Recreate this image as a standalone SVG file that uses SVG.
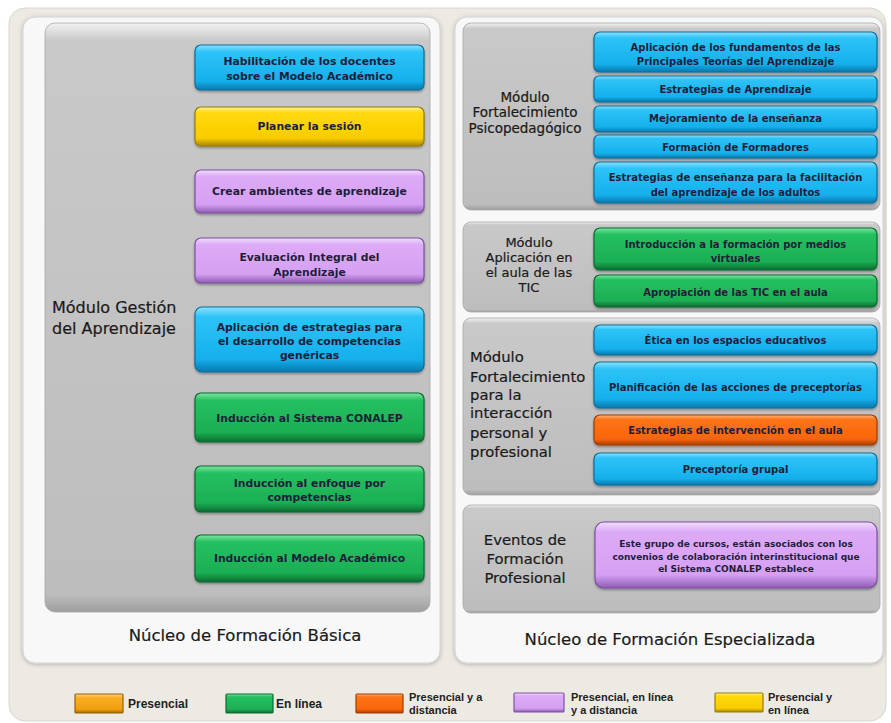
<svg xmlns="http://www.w3.org/2000/svg" width="891" height="723" viewBox="0 0 891 723">
<defs>
<linearGradient id="gBlue" x1="0" y1="0" x2="0" y2="1"><stop offset="0" stop-color="#8EE1FF"/><stop offset="0.15" stop-color="#2EC3F7"/><stop offset="0.8" stop-color="#14B0EC"/><stop offset="1" stop-color="#0A78AE"/></linearGradient>
<linearGradient id="gYellow" x1="0" y1="0" x2="0" y2="1"><stop offset="0" stop-color="#FFF19A"/><stop offset="0.15" stop-color="#FFD90A"/><stop offset="0.8" stop-color="#F9CC00"/><stop offset="1" stop-color="#A88600"/></linearGradient>
<linearGradient id="gPurple" x1="0" y1="0" x2="0" y2="1"><stop offset="0" stop-color="#F1DCFF"/><stop offset="0.15" stop-color="#DDAAF7"/><stop offset="0.8" stop-color="#D5A0F2"/><stop offset="1" stop-color="#8F5CB4"/></linearGradient>
<linearGradient id="gGreen" x1="0" y1="0" x2="0" y2="1"><stop offset="0" stop-color="#7EE6A4"/><stop offset="0.15" stop-color="#25C060"/><stop offset="0.8" stop-color="#1CAF54"/><stop offset="1" stop-color="#0C6D30"/></linearGradient>
<linearGradient id="gOrange" x1="0" y1="0" x2="0" y2="1"><stop offset="0" stop-color="#FFB27A"/><stop offset="0.15" stop-color="#FF7418"/><stop offset="0.8" stop-color="#F9650A"/><stop offset="1" stop-color="#A84000"/></linearGradient>
<linearGradient id="gAmber" x1="0" y1="0" x2="0" y2="1"><stop offset="0" stop-color="#FFD27A"/><stop offset="0.2" stop-color="#F9AE22"/><stop offset="0.8" stop-color="#F0A010"/><stop offset="1" stop-color="#A86A00"/></linearGradient>
<linearGradient id="gGray" x1="0" y1="0" x2="0" y2="1"><stop offset="0" stop-color="#F2F2F2"/><stop offset="0.03" stop-color="#C9C9C9"/><stop offset="0.97" stop-color="#BDBDBD"/><stop offset="1" stop-color="#9E9E9E"/></linearGradient>
<filter id="sh" x="-5%" y="-5%" width="110%" height="120%"><feDropShadow dx="0" dy="1.5" stdDeviation="1.2" flood-color="#000" flood-opacity="0.35"/></filter>
<filter id="psh" x="-5%" y="-5%" width="110%" height="110%"><feDropShadow dx="0" dy="1" stdDeviation="2" flood-color="#000" flood-opacity="0.25"/></filter>
</defs>
<style>
.frame{fill:#ECEAE2;stroke:#D8D6CE;stroke-width:1}
.panel{fill:#F8F8F8;stroke:#D2D2D2;stroke-width:1}
.gray{fill:url(#gGray);stroke:#A8A8A8;stroke-width:0.8}
.box{stroke-width:1.2}
.blue{fill:url(#gBlue);stroke:#0B6E9E}
.yellow{fill:url(#gYellow);stroke:#9A7C00}
.purple{fill:url(#gPurple);stroke:#7F4FA5}
.green{fill:url(#gGreen);stroke:#0B6A2E}
.orange{fill:url(#gOrange);stroke:#A03D00}
.amber{fill:url(#gAmber);stroke:#9A6000}
.bt{font-family:"DejaVu Sans",Verdana,sans-serif;font-weight:bold;font-size:10.8px;fill:#1E1E3A;text-anchor:middle}
.bs{font-size:10px}
.ml{font-family:"DejaVu Sans",Verdana,sans-serif;font-size:14.8px;fill:#1A1A1A;stroke:#1A1A1A;stroke-width:0.2}
.mc{text-anchor:middle}
.title{font-family:"DejaVu Sans",Verdana,sans-serif;font-size:16.5px;fill:#1A1A1A;stroke:#1A1A1A;stroke-width:0.2;text-anchor:middle}
.lg{font-family:"Liberation Sans",Arial,sans-serif;font-weight:bold;font-size:11px;fill:#222}
</style>

<rect class="frame" x="9" y="8" width="877" height="713" rx="16"/>

<g id="nucleo-basica">
<rect class="panel" x="23" y="17" width="417" height="646" rx="12" filter="url(#psh)"/>
<rect class="gray" x="45" y="23" width="385" height="589" rx="10"/>
<text class="title" x="245" y="641">Núcleo de Formación Básica</text>
</g>

<g id="nucleo-especializada">
<rect class="panel" x="455" y="17" width="428" height="646" rx="12" filter="url(#psh)"/>
<text class="title" x="670" y="645">Núcleo de Formación Especializada</text>
</g>

<g id="modulo-gestion">
<text class="ml" x="52" y="313" style="font-size:16px">Módulo Gestión</text>
<text class="ml" x="52" y="334" style="font-size:16px">del Aprendizaje</text>
</g>

<g id="b1"><rect class="box blue" x="195" y="45" width="229" height="45" rx="6" filter="url(#sh)"/><text class="bt" x="309.5" y="65">Habilitación de los docentes</text><text class="bt" x="309.5" y="80">sobre el Modelo Académico</text></g>
<g id="b2"><rect class="box yellow" x="195" y="107" width="229" height="39" rx="6" filter="url(#sh)"/><text class="bt" x="309.5" y="130">Planear la sesión</text></g>
<g id="b3"><rect class="box purple" x="195" y="170" width="229" height="43" rx="6" filter="url(#sh)"/><text class="bt" x="309.5" y="195">Crear ambientes de aprendizaje</text></g>
<g id="b4"><rect class="box purple" x="195" y="238" width="229" height="45" rx="6" filter="url(#sh)"/><text class="bt" x="309.5" y="261">Evaluación Integral del</text><text class="bt" x="309.5" y="276">Aprendizaje</text></g>
<g id="b5"><rect class="box blue" x="195" y="307" width="229" height="65" rx="7" filter="url(#sh)"/><text class="bt" x="309.5" y="331">Aplicación de estrategias para</text><text class="bt" x="309.5" y="345">el desarrollo de competencias</text><text class="bt" x="309.5" y="359">genéricas</text></g>
<g id="b6"><rect class="box green" x="195" y="393" width="229" height="49" rx="6" filter="url(#sh)"/><text class="bt" x="309.5" y="422">Inducción al Sistema CONALEP</text></g>
<g id="b7"><rect class="box green" x="195" y="466" width="229" height="46" rx="6" filter="url(#sh)"/><text class="bt" x="309.5" y="487">Inducción al enfoque por</text><text class="bt" x="309.5" y="501">competencias</text></g>
<g id="b8"><rect class="box green" x="195" y="535" width="229" height="47" rx="6" filter="url(#sh)"/><text class="bt" x="309.5" y="562">Inducción al Modelo Académico</text></g>

<g id="modulo-psicopedagogico">
<rect class="gray" x="463" y="23" width="417" height="187" rx="8"/>
<text class="ml mc" x="525" y="102" style="font-size:13.5px">Módulo</text>
<text class="ml mc" x="525" y="117" style="font-size:13.5px">Fortalecimiento</text>
<text class="ml mc" x="525" y="133" style="font-size:13.5px">Psicopedagógico</text>
</g>
<g id="r1"><rect class="box blue" x="594" y="32" width="283" height="40" rx="6" filter="url(#sh)"/><text class="bt bs" x="735.5" y="51">Aplicación de los fundamentos de las</text><text class="bt bs" x="735.5" y="65">Principales Teorías del Aprendizaje</text></g>
<g id="r2"><rect class="box blue" x="594" y="76" width="283" height="26" rx="5" filter="url(#sh)"/><text class="bt bs" x="735.5" y="93">Estrategias de Aprendizaje</text></g>
<g id="r3"><rect class="box blue" x="594" y="106" width="283" height="26" rx="5" filter="url(#sh)"/><text class="bt bs" x="735.5" y="122">Mejoramiento de la enseñanza</text></g>
<g id="r4"><rect class="box blue" x="594" y="135" width="283" height="23" rx="5" filter="url(#sh)"/><text class="bt bs" x="735.5" y="151">Formación de Formadores</text></g>
<g id="r5"><rect class="box blue" x="594" y="162" width="283" height="41" rx="6" filter="url(#sh)"/><text class="bt bs" x="735.5" y="181">Estrategias de enseñanza para la facilitación</text><text class="bt bs" x="735.5" y="196">del aprendizaje de los adultos</text></g>

<g id="modulo-tic">
<rect class="gray" x="463" y="222" width="417" height="90" rx="8"/>
<text class="ml mc" x="529" y="247" style="font-size:13px">Módulo</text>
<text class="ml mc" x="529" y="262" style="font-size:13px">Aplicación en</text>
<text class="ml mc" x="529" y="277" style="font-size:13px">el aula de las</text>
<text class="ml mc" x="529" y="292" style="font-size:13px">TIC</text>
</g>
<g id="t1"><rect class="box green" x="594" y="228" width="283" height="42" rx="6" filter="url(#sh)"/><text class="bt bs" x="735.5" y="248">Introducción a la formación por medios</text><text class="bt bs" x="735.5" y="262">virtuales</text></g>
<g id="t2"><rect class="box green" x="594" y="275" width="283" height="32" rx="6" filter="url(#sh)"/><text class="bt bs" x="735.5" y="296">Apropiación de las TIC en el aula</text></g>

<g id="modulo-interaccion">
<rect class="gray" x="463" y="318" width="417" height="177" rx="8"/>
<text class="ml" x="470" y="362">Módulo</text>
<text class="ml" x="470" y="382">Fortalecimiento</text>
<text class="ml" x="470" y="400">para la</text>
<text class="ml" x="470" y="418">interacción</text>
<text class="ml" x="470" y="438">personal y</text>
<text class="ml" x="470" y="457">profesional</text>
</g>
<g id="i1"><rect class="box blue" x="594" y="325" width="283" height="30" rx="6" filter="url(#sh)"/><text class="bt bs" x="735.5" y="344">Ética en los espacios educativos</text></g>
<g id="i2"><rect class="box blue" x="594" y="362" width="283" height="46" rx="6" filter="url(#sh)"/><text class="bt bs" x="735.5" y="391">Planificación de las acciones de preceptorías</text></g>
<g id="i3"><rect class="box orange" x="594" y="415" width="283" height="30" rx="6" filter="url(#sh)"/><text class="bt bs" x="735.5" y="434">Estrategias de intervención en el aula</text></g>
<g id="i4"><rect class="box blue" x="594" y="453" width="283" height="32" rx="6" filter="url(#sh)"/><text class="bt bs" x="735.5" y="473">Preceptoría grupal</text></g>

<g id="eventos">
<rect class="gray" x="463" y="505" width="417" height="108" rx="8"/>
<text class="ml mc" x="525" y="545">Eventos de</text>
<text class="ml mc" x="525" y="564">Formación</text>
<text class="ml mc" x="525" y="583">Profesional</text>
</g>
<g id="e1"><rect class="box purple" x="595" y="522" width="282" height="66" rx="9" filter="url(#sh)"/><text class="bt" x="736" y="547" style="font-size:9px">Este grupo de cursos, están asociados con los</text><text class="bt" x="736" y="560" style="font-size:9px">convenios de colaboración interinstitucional que</text><text class="bt" x="736" y="572" style="font-size:9px">el Sistema CONALEP establece</text></g>

<g id="legend">
<rect class="box amber" x="75" y="694" width="48" height="19" rx="1"/>
<text class="lg" x="128" y="708" style="font-size:12px">Presencial</text>
<rect class="box green" x="226" y="694" width="47" height="19" rx="1"/>
<text class="lg" x="276" y="708" style="font-size:12px">En línea</text>
<rect class="box orange" x="356" y="694" width="47" height="19" rx="1"/>
<text class="lg" x="409" y="700.5">Presencial y a</text>
<text class="lg" x="409" y="714">distancia</text>
<rect class="box purple" x="514" y="693" width="50" height="19" rx="1"/>
<text class="lg" x="571" y="700.5">Presencial, en línea</text>
<text class="lg" x="571" y="714">y a distancia</text>
<rect class="box yellow" x="715" y="693" width="48" height="19" rx="1"/>
<text class="lg" x="768" y="700.5">Presencial y</text>
<text class="lg" x="768" y="714">en línea</text>
</g>
</svg>
